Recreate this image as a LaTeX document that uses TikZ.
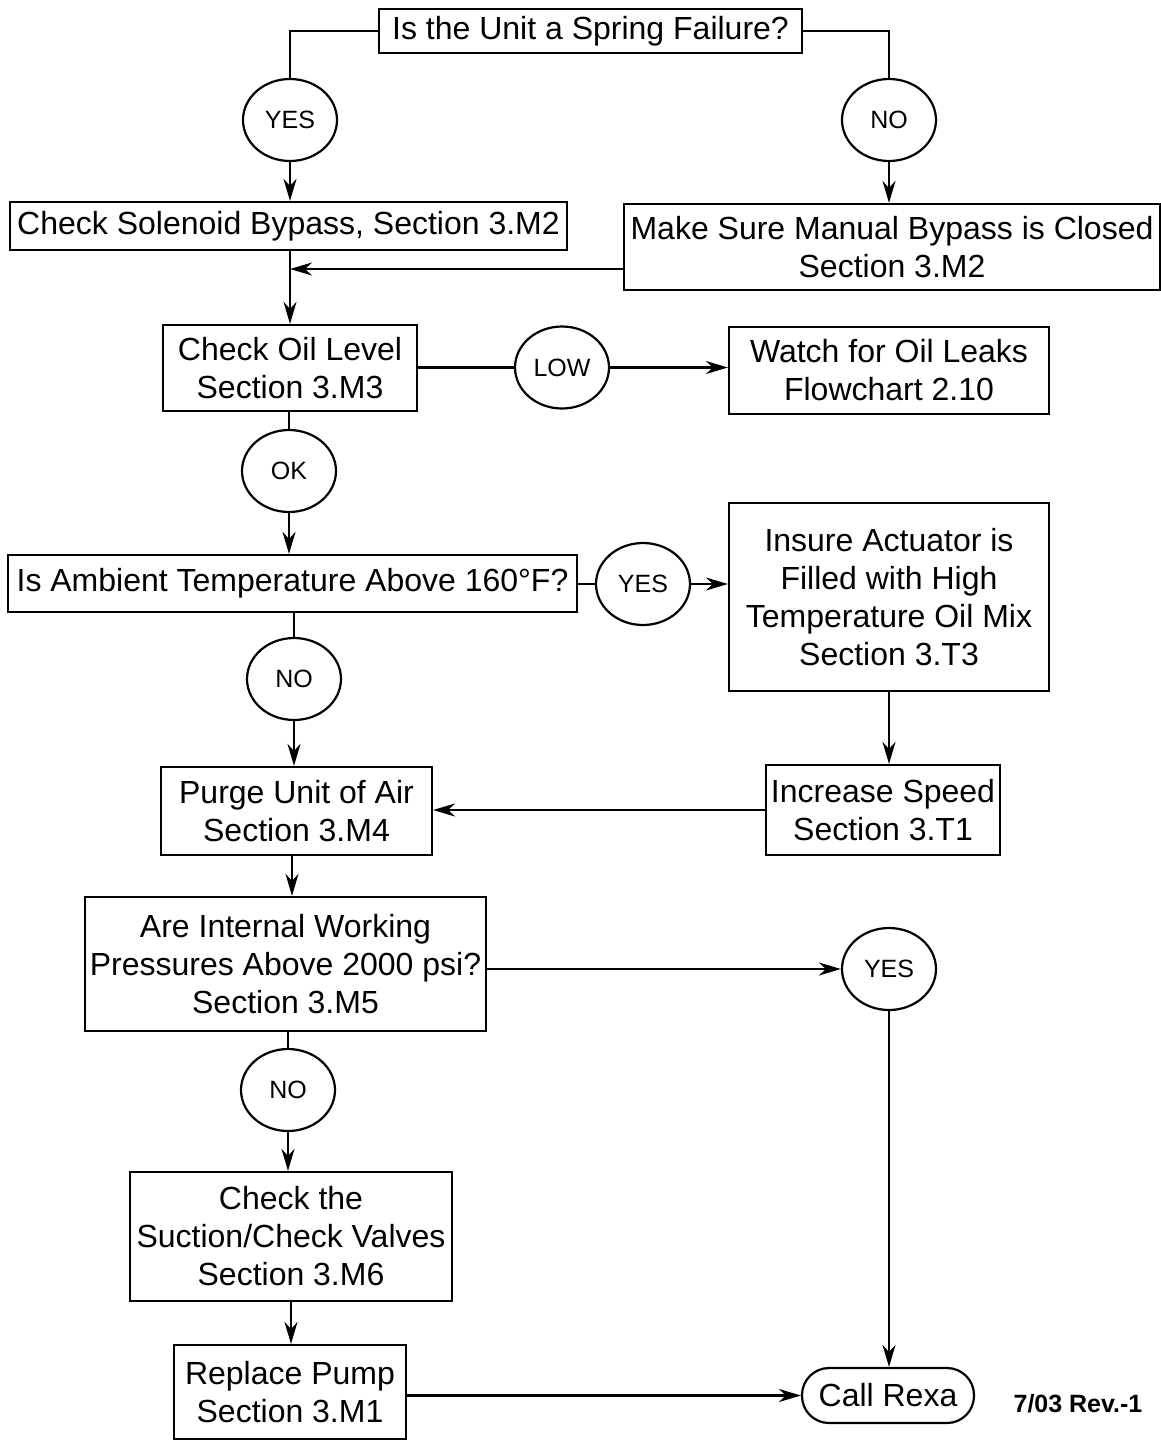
\documentclass[tikz,border=0pt]{standalone}
\usepackage{fontspec}
\setmainfont{Liberation Sans}
\usetikzlibrary{arrows.meta,shapes.geometric}

\begin{document}
\begin{tikzpicture}[
  x=0.5pt, y=-0.5pt,
  line width=1.1pt,
  box/.style={draw, rectangle, align=center, inner sep=0pt,
              font=\fontsize{16}{19}\selectfont},
  lbl/.style={draw, ellipse, inner sep=0pt, minimum width=47pt,
              minimum height=41pt, font=\fontsize{12.5}{14}\selectfont},
  term/.style={draw, rectangle, rounded corners=13.5pt, inner sep=0pt,
               minimum width=86pt, minimum height=27.5pt,
               font=\fontsize{16}{19}\selectfont},
  arr/.style={-{Stealth[length=11pt,width=6.5pt,inset=3.5pt]}}
]
\useasboundingbox (0,0) rectangle (1161,1440);

% process and decision boxes
\node[box, minimum width=211.5pt, minimum height=22pt] (q1) at (590.5,31)
  {Is the Unit a Spring Failure?};
\node[box, minimum width=278.5pt, minimum height=24pt] (sol) at (288.5,226)
  {Check Solenoid Bypass, Section 3.M2};
\node[box, minimum width=268pt, minimum height=43pt] (man) at (892,247)
  {Make Sure Manual Bypass is Closed\\Section 3.M2};
\node[box, minimum width=127pt, minimum height=43pt] (oil) at (290,368)
  {Check Oil Level\\Section 3.M3};
\node[box, minimum width=160pt, minimum height=43.5pt] (leak) at (889,370.5)
  {Watch for Oil Leaks\\Flowchart 2.10};
\node[box, minimum width=284.5pt, minimum height=28.5pt] (amb) at (292.5,583.5)
  {Is Ambient Temperature Above 160°F?};
\node[box, minimum width=160pt, minimum height=94pt] (ins) at (889,597)
  {Insure Actuator is\\Filled with High\\Temperature Oil Mix\\Section 3.T3};
\node[box, minimum width=117pt, minimum height=45pt] (inc) at (883,810)
  {Increase Speed\\Section 3.T1};
\node[box, minimum width=135.5pt, minimum height=44pt] (purge) at (296.5,811)
  {Purge Unit of Air\\Section 3.M4};
\node[box, minimum width=200.5pt, minimum height=67pt] (are) at (285.5,964)
  {Are Internal Working\\Pressures Above 2000 psi?\\Section 3.M5};
\node[box, minimum width=161pt, minimum height=64.5pt] (chk) at (291,1236.5)
  {Check the\\Suction/Check Valves\\Section 3.M6};
\node[box, minimum width=116pt, minimum height=47pt] (rep) at (290,1392)
  {Replace Pump\\Section 3.M1};
\node[term] (call) at (888,1395.5) {Call Rexa};

% answer labels
\node[lbl] (y1) at (290,120) {YES};
\node[lbl] (n1) at (889,120) {NO};
\node[lbl] (low) at (562,367.5) {LOW};
\node[lbl] (ok) at (289,471) {OK};
\node[lbl] (y2) at (643,584) {YES};
\node[lbl] (n2) at (294,679) {NO};
\node[lbl] (y3) at (889,969) {YES};
\node[lbl] (n3) at (288,1090) {NO};

% revision note
\node[font=\fontsize{12.5}{15}\selectfont\bfseries] (rev) at (1078,1404) {7/03 Rev.-1};

% junctions on the main vertical path
\coordinate (mj) at (290,269);
\coordinate (pj) at (292,855);

% connectors
\draw (q1.west) -| (y1.north);
\draw (q1.east) -| (n1.north);
\draw[arr] (y1.south) -- (y1.south |- sol.north);
\draw[arr] (n1.south) -- (n1.south |- man.north);
\draw[arr] (oil.north |- sol.south) -- (oil.north);
\draw[arr] (man.west |- mj) -- (mj);
\draw (oil.east |- low.west) -- (low.west);
\draw[arr] (low.east) -- (low.east -| leak.west);
\draw (ok.north |- oil.south) -- (ok.north);
\draw[arr] (ok.south) -- (ok.south |- amb.north);
\draw (amb.east |- y2.west) -- (y2.west);
\draw[arr] (y2.east) -- (y2.east -| ins.west);
\draw (n2.north |- amb.south) -- (n2.north);
\draw[arr] (n2.south) -- (n2.south |- purge.north);
\draw[arr] (ins.south) -- (ins.south |- inc.north);
\draw[arr] (inc.west) -- (inc.west -| purge.east);
\draw[arr] (pj) -- (pj |- are.north);
\draw[arr] (are.east |- y3.west) -- (y3.west);
\draw (n3.north |- are.south) -- (n3.north);
\draw[arr] (n3.south) -- (n3.south |- chk.north);
\draw[arr] (chk.south) -- (chk.south |- rep.north);
\draw[arr] (rep.east |- call.west) -- (call.west);
\draw[arr] (y3.south) -- (y3.south |- call.north);
\end{tikzpicture}
\end{document}
